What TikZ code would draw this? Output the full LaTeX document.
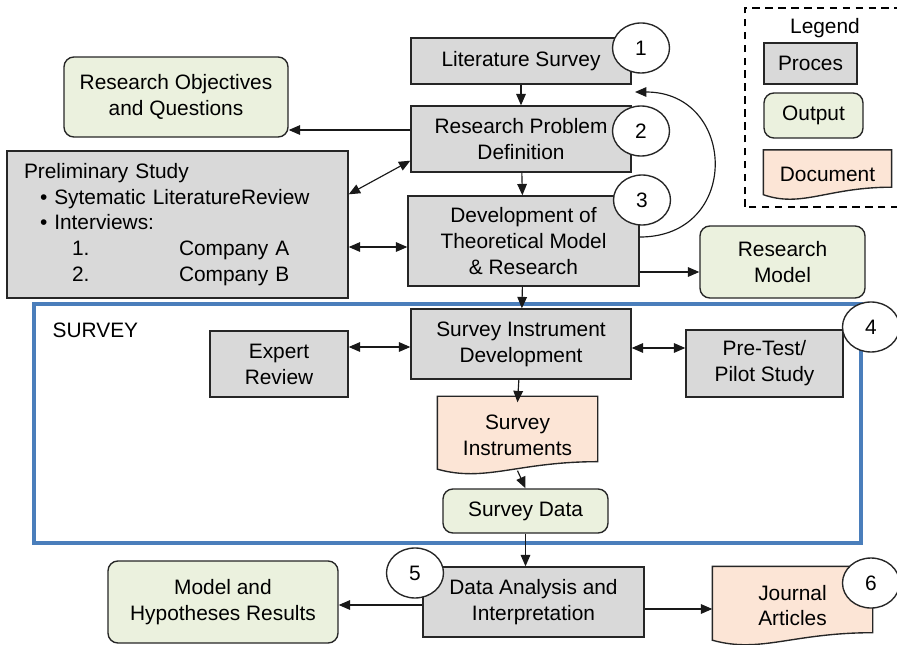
\documentclass[tikz,border=0pt]{standalone}
\usepackage{fontspec}
\setmainfont{Liberation Sans}
\usepackage{tikz}
\usetikzlibrary{
	arrows.meta,
	calc,
	positioning,
	shapes,
	backgrounds,
}
\definecolor{procgray}{RGB}{217,217,217}
\definecolor{outgreen}{RGB}{235,241,222}
\definecolor{docpeach}{RGB}{252,229,214}
\definecolor{surveyblue}{RGB}{74,126,187}
\tikzset{box node/.style={
	draw=black!85,
	line width=1.3pt,
	inner sep=1mm,
	align=center,
	font=\fontsize{19.8}{24.5}\selectfont,
}}
\tikzset{process node/.style={
	box node,
	fill=procgray,
}}
\tikzset{output node/.style={
	box node,
	fill=outgreen,
	rounded corners=3.3mm,
}}
\tikzset{document node/.style={
	box node,
	draw=none,
}}
\tikzset{number node/.style={
	box node,
	ellipse,
	fill=white,
	inner sep=0mm,
	minimum width=1.9cm,
	minimum height=1.667cm,
}}
\tikzset{flow/.style={
	-{Triangle[length=3.8mm,width=3.2mm]},
	line width=1.1pt,
	black!90,
}}
\tikzset{both flow/.style={
	flow,
	{Triangle[length=3.8mm,width=3.2mm]}-{Triangle[length=3.8mm,width=3.2mm]},
}}

\begin{document}
\begin{tikzpicture}[every node/.style={box node}]

\useasboundingbox (0,0) rectangle (29.9,21.467);

% wavy page behind a document node
\newcommand{\docpage}[1]{
\begin{pgfonlayer}{background}
\draw[line width=1.3pt, draw=black!85, fill=docpeach]
	(#1.north west) -- (#1.north east) -- ([yshift=4mm]#1.south east)
	.. controls ($(#1.south)+(0,4mm)$) and ($(#1.south west)!0.3!(#1.south east)+(0,-3mm)$)
	.. ([yshift=1.5mm]#1.south west) -- cycle;
\end{pgfonlayer}
}

% survey frame
\draw[surveyblue, line width=3pt] (1.133,3.367) rectangle (28.7,11.333);
\node[draw=none, anchor=west] (survey) at (1.633,10.467) {SURVEY};

% legend
\draw[line width=1.3pt, dash pattern=on 2.5mm off 1.8mm] (24.833,14.567) rectangle (30.0,21.2);
\node[draw=none] (legend) at (27.5,20.533) {Legend};
\node[process node, minimum width=3.1cm, minimum height=1.367cm] (kproc) at (27.017,19.35) {Proces};
\node[output node, minimum width=3.3cm, minimum height=1.5cm] (kout) at (27.117,17.617) {Output};
\node[document node, minimum width=4.233cm, minimum height=1.6cm] (kdoc) at (27.583,15.65) {Document};
\docpage{kdoc}

% main column
\node[process node, minimum width=7.333cm, minimum height=1.533cm] (lit) at (17.367,19.433) {Literature Survey};
\node[process node, minimum width=7.333cm, minimum height=2.2cm] (rpd) at (17.367,16.833) {Research Problem\\Definition};
\node[process node, minimum width=7.7cm, minimum height=3cm] (dev) at (17.45,13.433) {Development of\\Theoretical Model\\\& Research};
\node[process node, minimum width=7.333cm, minimum height=2.333cm] (sid) at (17.367,10) {Survey Instrument\\Development};
\node[document node, minimum width=5.3cm, minimum height=2.533cm] (sins) at (17.25,6.967) {Survey\\Instruments};
\docpage{sins}
\node[output node, minimum width=5.5cm, minimum height=1.467cm] (sdata) at (17.517,4.433) {Survey Data};
\node[process node, minimum width=7.367cm, minimum height=2.333cm] (dai) at (17.783,1.4) {Data Analysis and\\Interpretation};

% left side
\node[output node, minimum width=7.467cm, minimum height=2.667cm] (roq) at (5.867,18.233) {Research Objectives\\and Questions};
\node[process node, minimum width=11.367cm, minimum height=4.9cm, text width=10.233cm, inner xsep=0.567cm, align=left] (prelim) at (5.917,13.983)
{Preliminary Study\\
\hspace*{0.533cm}\textbullet\ Sytematic LiteratureReview\\
\hspace*{0.533cm}\textbullet\ Interviews:\\
\hspace*{1.6cm}\makebox[3.567cm][l]{1.}Company A\\
\hspace*{1.6cm}\makebox[3.567cm][l]{2.}Company B};
\node[process node, minimum width=4.6cm, minimum height=2.2cm] (expert) at (9.3,9.333) {Expert\\Review};
\node[output node, minimum width=7.667cm, minimum height=2.733cm] (mhr) at (7.433,1.4) {Model and\\Hypotheses Results};

% right side
\node[output node, minimum width=5.5cm, minimum height=2.4cm] (rmodel) at (26.083,12.733) {Research\\Model};
\node[process node, minimum width=5.233cm, minimum height=2.233cm] (pilot) at (25.483,9.35) {Pre-Test/\\Pilot Study};
\node[document node, minimum width=5.3cm, minimum height=2.567cm] (journal) at (26.417,1.283) {Journal\\Articles};
\docpage{journal}

% main flow
\draw[flow] (lit) -- (rpd);
\draw[flow] (rpd) -- (dev);
\draw[flow] (dev) -- (sid);
\draw[flow] (sid) -- ([yshift=-2mm]sins.north);
\draw[flow] ([yshift=1mm]sins.south) -- (sdata.north);
\draw[flow] (sdata.south) -- (sdata.south |- dai.north);

% outputs
\draw[flow] ([yshift=3mm]rpd.west) coordinate (roqin) -- (roqin -| roq.east);
\draw[flow] ([yshift=-3.33mm]rmodel.west -| dev.east) -- ([yshift=-3.33mm]rmodel.west);
\draw[flow] ([yshift=-1mm]dai.west) coordinate (mhrin) -- (mhrin -| mhr.east);
\draw[flow] ([yshift=-2.33mm]dai.east) coordinate (jain) -- (jain -| journal.west);

% two-way links
\draw[both flow] ([yshift=-14.67mm]prelim.north east) -- ([yshift=4mm]rpd.south west);
\draw[both flow] ([yshift=-2mm]dev.west -| prelim.east) -- ([yshift=-2mm]dev.west);
\draw[both flow] ([yshift=-1mm]sid.west -| expert.east) -- ([yshift=-1mm]sid.west);
\draw[both flow] ([yshift=-1.33mm]sid.east) coordinate (pilotin) -- (pilotin -| pilot.west);

% loop back
\coordinate (loopend) at (21.167,18.4);
\draw[flow] ([yshift=1.33mm]dev.east) to[out=0, in=0, distance=3.4cm] (loopend);

% step numbers
\node[number node] (n1) at (21.367,19.867) {1};
\node[number node] (n2) at (21.367,17.1) {2};
\node[number node] (n3) at (21.4,14.8) {3};
\node[number node] (n4) at (29.033,10.567) {4};
\node[number node] (n5) at (13.833,2.367) {5};
\node[number node] (n6) at (29.033,2.033) {6};

\end{tikzpicture}
\end{document}
